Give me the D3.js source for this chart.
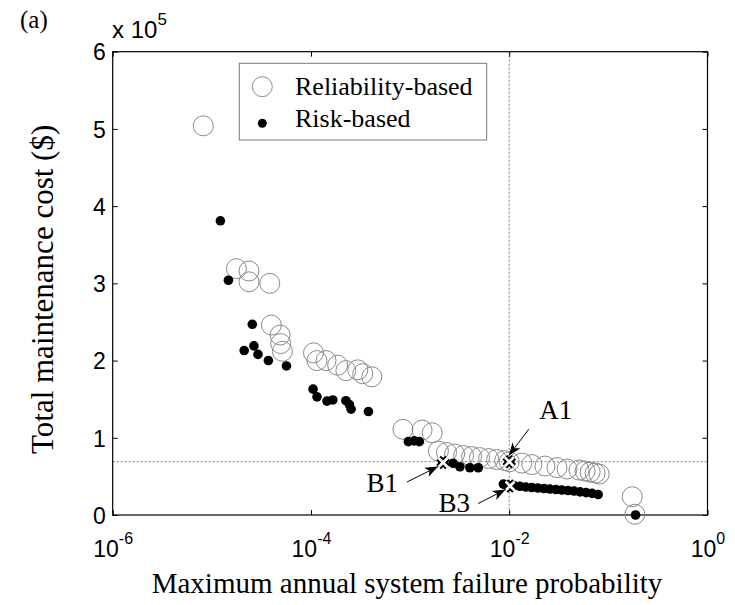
<!DOCTYPE html>
<html>
<head>
<meta charset="utf-8">
<script src="https://cdn.jsdelivr.net/npm/d3@7"></script>
<style>
  body { margin: 0; background: #fff; }
  svg { display: block; }
</style>
</head>
<body>
<svg id="chart" width="735" height="605"></svg>
<script>
// Reliability-based designs: maximum annual system failure probability and total cost (x 10^5 $)
const reliabilityProb = [8.2e-6, 1.77e-5, 2.37e-5, 2.37e-5, 3.84e-5, 3.99e-5, 4.88e-5, 4.95e-5, 5.15e-5,
  1.06e-4, 1.15e-4, 1.42e-4, 1.86e-4, 2.25e-4, 2.97e-4, 3.33e-4, 4.11e-4, 8.47e-4, 1.32e-3, 1.67e-3,
  1.93e-3, 2.33e-3, 2.81e-3, 3.46e-3, 4.17e-3, 5.02e-3, 6.19e-3, 7.46e-3, 9.0e-3, 1.0e-2, 1.34e-2,
  1.69e-2, 2.29e-2, 3.03e-2, 3.83e-2, 5.06e-2, 5.82e-2, 6.55e-2, 7.35e-2, 8.07e-2, 0.174, 0.185];
const reliabilityCost = [5.04, 3.19, 3.16, 3.02, 3.00, 2.46, 2.33, 2.22, 2.12,
  2.10, 2.00, 2.00, 1.94, 1.87, 1.88, 1.83, 1.79, 1.11, 1.10, 1.065,
  0.828, 0.809, 0.789, 0.77, 0.757, 0.744, 0.731, 0.718, 0.705, 0.69, 0.673,
  0.653, 0.634, 0.614, 0.595, 0.582, 0.569, 0.556, 0.543, 0.53, 0.237, 0.01];

// Risk-based designs
const riskProb = [1.22e-5, 1.47e-5, 2.56e-5, 2.12e-5, 2.66e-5, 2.92e-5, 3.72e-5, 5.66e-5,
  1.05e-4, 1.15e-4, 1.45e-4, 1.66e-4, 2.25e-4, 2.44e-4, 2.54e-4, 3.8e-4, 9.6e-4, 1.10e-3, 1.24e-3,
  2.15e-3, 2.72e-3, 3.18e-3, 4.01e-3, 4.87e-3, 8.73e-3, 1.02e-2, 1.11e-2, 1.28e-2, 1.47e-2, 1.69e-2,
  1.95e-2, 2.24e-2, 2.57e-2, 2.96e-2, 3.4e-2, 3.92e-2, 4.5e-2, 5.18e-2, 5.96e-2, 6.86e-2, 7.89e-2, 0.188];
const riskCost = [3.81, 3.04, 2.47, 2.13, 2.19, 2.08, 2.00, 1.93,
  1.63, 1.53, 1.475, 1.49, 1.48, 1.43, 1.37, 1.34, 0.95, 0.96, 0.95,
  0.68, 0.67, 0.625, 0.612, 0.612, 0.40, 0.375, 0.382, 0.372, 0.362, 0.356,
  0.349, 0.343, 0.336, 0.33, 0.323, 0.317, 0.31, 0.30, 0.29, 0.28, 0.265, 0.0];

// Highlighted designs
const markerNames = ["A1", "B1", "B3"];
const markerProb = [1.0e-2, 2.15e-3, 1.02e-2];
const markerCost = [0.69, 0.68, 0.375];

// Reference lines through design A1
const refProb = 1.0e-2;
const refCost = 0.69;

// Axis ticks
const xTickExponents = [-6, -4, -2, 0];
const yTicks = [0, 1, 2, 3, 4, 5, 6];
const legendLabels = ["Reliability-based", "Risk-based"];

// ---------- layout ----------
const svg = d3.select("#chart");
const plotLeft = 112.7, plotRight = 707.5, plotTop = 51.7, plotBottom = 515;
const x = d3.scaleLog().domain([1e-6, 1]).range([plotLeft, plotRight]);
const y = d3.scaleLinear().domain([0, 6]).range([plotBottom, plotTop]);
const sansFont = "'Liberation Sans', Arial, sans-serif";
const serifFont = "'Liberation Serif', 'Times New Roman', serif";
const circleGray = "#8a8a8a";

// reference lines
svg.append("line")
  .attr("x1", plotLeft).attr("x2", plotRight)
  .attr("y1", y(refCost)).attr("y2", y(refCost))
  .attr("stroke", "#555").attr("stroke-width", 0.8).attr("stroke-dasharray", "2,2");
svg.append("line")
  .attr("x1", x(refProb)).attr("x2", x(refProb))
  .attr("y1", plotTop).attr("y2", plotBottom)
  .attr("stroke", "#555").attr("stroke-width", 0.8).attr("stroke-dasharray", "2,2");

// axes: ticks point inward on all four sides
const tickLen = 5;
const xTickValues = xTickExponents.map(e => Math.pow(10, e));
const xb = svg.append("g").attr("transform", `translate(0,${plotBottom})`)
  .call(d3.axisBottom(x).tickValues(xTickValues).tickSizeInner(-tickLen).tickSizeOuter(0).tickFormat(""));
svg.append("g").attr("transform", `translate(0,${plotTop})`)
  .call(d3.axisTop(x).tickValues(xTickValues).tickSizeInner(-tickLen).tickSizeOuter(0).tickFormat(""));
const yl = svg.append("g").attr("transform", `translate(${plotLeft},0)`)
  .call(d3.axisLeft(y).tickValues(yTicks).tickSizeInner(-tickLen).tickSizeOuter(0).tickPadding(7).tickFormat(d3.format("d")));
svg.append("g").attr("transform", `translate(${plotRight},0)`)
  .call(d3.axisRight(y).tickValues(yTicks).tickSizeInner(-tickLen).tickSizeOuter(0).tickFormat(""));
svg.selectAll(".domain").remove();
svg.selectAll(".tick line").attr("stroke", "#000").attr("stroke-width", 1);

yl.selectAll(".tick text")
  .attr("font-family", sansFont).attr("font-size", 23).attr("fill", "#000").attr("dy", "0.36em");

// x tick labels as powers of ten
xb.selectAll(".tick").each(function(d) {
  const t = d3.select(this).append("text")
    .attr("y", 42).attr("text-anchor", "middle")
    .attr("font-family", sansFont).attr("font-size", 23).attr("fill", "#000");
  t.append("tspan").text("10");
  t.append("tspan").attr("dy", -13).attr("font-size", 16).text(String(Math.round(Math.log10(d))));
});

// frame
svg.append("rect")
  .attr("x", plotLeft).attr("y", plotTop).attr("width", plotRight - plotLeft).attr("height", plotBottom - plotTop)
  .attr("fill", "none").attr("stroke", "#000").attr("stroke-width", 1.2);

// scale factor
const sf = svg.append("text").attr("x", 112).attr("y", 38)
  .attr("font-family", sansFont).attr("font-size", 24).attr("fill", "#000");
sf.append("tspan").text("x 10");
sf.append("tspan").attr("dy", -13).attr("font-size", 17).text("5");

// panel label
svg.append("text").attr("x", 20).attr("y", 28)
  .attr("font-family", serifFont).attr("font-size", 25).attr("fill", "#000").text("(a)");

// axis titles
svg.append("text").attr("x", 151.7).attr("y", 593).attr("text-anchor", "start")
  .attr("font-family", serifFont).attr("font-size", 29).attr("fill", "#000")
  .text("Maximum annual system failure probability");
svg.append("text").attr("transform", "translate(53,454) rotate(-90)").attr("text-anchor", "start")
  .attr("font-family", serifFont).attr("font-size", 31).attr("fill", "#000")
  .text("Total maintenance cost ($)");

// data marks
const reliability = reliabilityProb.map((p, i) => ({ p, c: reliabilityCost[i] }));
const risk = riskProb.map((p, i) => ({ p, c: riskCost[i] }));

svg.append("g").selectAll("circle").data(reliability).join("circle")
  .attr("cx", d => x(d.p)).attr("cy", d => y(d.c)).attr("r", 10)
  .attr("fill", "none").attr("stroke", circleGray).attr("stroke-width", 1);

svg.append("g").selectAll("circle").data(risk).join("circle")
  .attr("cx", d => x(d.p)).attr("cy", d => y(d.c)).attr("r", 4.8)
  .attr("fill", "#000");

// highlighted designs: white crosses with black outline
const markers = markerNames.map((n, i) => ({ name: n, p: markerProb[i], c: markerCost[i] }));
const crossPath = "M-4.5,-4.5L4.5,4.5M-4.5,4.5L4.5,-4.5";
const mg = svg.append("g").selectAll("g").data(markers).join("g")
  .attr("transform", d => `translate(${x(d.p)},${y(d.c)})`);
mg.append("path").attr("d", crossPath).attr("stroke", "#000").attr("stroke-width", 6.5).attr("fill", "none");
mg.append("path").attr("d", crossPath).attr("stroke", "#fff").attr("stroke-width", 2.6).attr("fill", "none");

// annotation arrows and labels (offsets in pixels from each marker)
const annot = {
  A1: { from: [19.5, -32.5], to: [-0.5, -6], label: [30, -43], anchor: "start" },
  B1: { from: [-36, 19.5], to: [-5, 4], label: [-45, 29.5], anchor: "end" },
  B3: { from: [-32, 17.5], to: [-4.5, 3.5], label: [-40, 26], anchor: "end" }
};

function arrowHead(x0, y0, x1, y1) {
  const ang = Math.atan2(y1 - y0, x1 - x0);
  const L = 13, W = 5, back = 9.5;
  const ca = Math.cos(ang), sa = Math.sin(ang);
  const pt = (a, b) => [x1 - a * ca + b * -sa, y1 - a * sa + b * ca];
  const p1 = pt(L, W), p2 = pt(back, 0), p3 = pt(L, -W);
  return `M${x1},${y1}L${p1[0]},${p1[1]}L${p2[0]},${p2[1]}L${p3[0]},${p3[1]}Z`;
}

markers.forEach(m => {
  const a = annot[m.name];
  const mx = x(m.p), my = y(m.c);
  const x0 = mx + a.from[0], y0 = my + a.from[1];
  const x1 = mx + a.to[0], y1 = my + a.to[1];
  svg.append("line").attr("x1", x0).attr("y1", y0).attr("x2", x1).attr("y2", y1)
    .attr("stroke", "#000").attr("stroke-width", 1);
  svg.append("path").attr("d", arrowHead(x0, y0, x1, y1)).attr("fill", "#000");
  svg.append("text").attr("x", mx + a.label[0]).attr("y", my + a.label[1])
    .attr("text-anchor", a.anchor)
    .attr("font-family", serifFont).attr("font-size", 27).attr("fill", "#000")
    .text(m.name);
});

// legend
const lg = svg.append("g");
lg.append("rect").attr("x", 239.3).attr("y", 63.3).attr("width", 247.4).attr("height", 76.7)
  .attr("fill", "#fff").attr("stroke", "#7a7a7a").attr("stroke-width", 1);
lg.append("circle").attr("cx", 262.3).attr("cy", 86.7).attr("r", 10)
  .attr("fill", "none").attr("stroke", circleGray).attr("stroke-width", 1);
lg.append("circle").attr("cx", 262.3).attr("cy", 123.3).attr("r", 4.5).attr("fill", "#000");
lg.selectAll("text.lbl").data(legendLabels).join("text").attr("class", "lbl")
  .attr("x", 295).attr("y", (d, i) => 95 + i * 32)
  .attr("font-family", serifFont).attr("font-size", 26).attr("fill", "#000")
  .text(d => d);
</script>
</body>
</html>
